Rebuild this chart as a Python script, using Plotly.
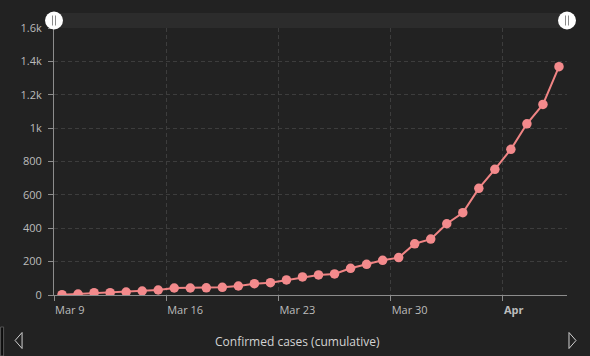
import plotly.graph_objects as go
import pandas as pd

# ---- data ----
start_date = "2020-03-09"
confirmed = [2, 6, 14, 14, 18, 24, 30, 42, 42, 43, 46, 54, 68, 74, 90, 108,
             120, 126, 160, 184, 208, 224, 307, 335, 427, 493, 639, 753,
             873, 1026, 1142, 1368]
dates = pd.date_range(start_date, periods=len(confirmed), freq="D") + pd.Timedelta(hours=12)

x_tickvals = ["2020-03-09", "2020-03-16", "2020-03-23", "2020-03-30", "2020-04-06"]
x_ticktext = ["Mar 9", "Mar 16", "Mar 23", "Mar 30", "<b>Apr</b>"]
y_tickvals = [0, 200, 400, 600, 800, 1000, 1200, 1400, 1600]
y_ticktext = ["0", "200", "400", "600", "800", "1k", "1.2k", "1.4k", "1.6k"]
title_text = "Confirmed cases (cumulative)"

BG = "#222222"
GRID = "#3d3d3d"
AXIS = "#8c8c8c"
LABEL = "#bcbcbc"
LINE = "#f08484"
FONT = "Open Sans"

fig = go.Figure()
fig.add_trace(go.Scatter(
    x=dates, y=confirmed, mode="lines+markers",
    line=dict(color=LINE, width=2),
    marker=dict(color="#f38a8c", size=9.5, line=dict(width=0)),
    hoverinfo="skip", showlegend=False,
))

W, H = 590, 356
L, R, T, B = 53.5, 567.5, 28, 295
def px(xp):
    return (xp - L) / (R - L)
def py(yp):
    return (B - yp) / (B - T)

shapes = []
# scrollbar track
shapes.append(dict(type="rect", xref="paper", yref="paper",
                   x0=0, x1=1, y0=py(28), y1=py(13),
                   fillcolor="#2c2c2c", line=dict(width=0), layer="below"))
# grips
for gx in (0, 1):
    shapes.append(dict(type="circle", xref="paper", yref="paper",
                       xsizemode="pixel", ysizemode="pixel",
                       xanchor=gx, yanchor=py(20.5),
                       x0=-9, x1=9, y0=-9, y1=9,
                       fillcolor="#ffffff", line=dict(width=0)))
    for dx in (-1.5, 1.5):
        shapes.append(dict(type="line", xref="paper", yref="paper",
                           xsizemode="pixel", ysizemode="pixel",
                           xanchor=gx, yanchor=py(20.5),
                           x0=dx, x1=dx, y0=-5, y1=5,
                           line=dict(color="#8a8a8a", width=1)))
# bottom arrows
yc = py(340.5)
shapes.append(dict(type="path", xref="paper", yref="paper",
                   xsizemode="pixel", ysizemode="pixel",
                   xanchor=px(18), yanchor=yc,
                   path="M 3.5 -8 L -3.5 0 L 3.5 8 Z",
                   fillcolor="rgba(0,0,0,0)", line=dict(color="#d0d0d0", width=1)))
shapes.append(dict(type="path", xref="paper", yref="paper",
                   xsizemode="pixel", ysizemode="pixel",
                   xanchor=px(573), yanchor=yc,
                   path="M -3.5 -8 L 3.5 0 L -3.5 8 Z",
                   fillcolor="rgba(0,0,0,0)", line=dict(color="#d0d0d0", width=1)))
# left edge dark block
shapes.append(dict(type="rect", xref="paper", yref="paper",
                   x0=px(0), x1=px(3), y0=py(356), y1=py(327),
                   fillcolor="#0c0c0c", line=dict(color="#555555", width=1)))

fig.update_layout(
    width=W, height=H,
    margin=dict(l=L, r=W - R, t=T, b=H - B),
    paper_bgcolor=BG, plot_bgcolor=BG,
    font=dict(family=FONT, color=LABEL, size=11),
    shapes=shapes,
    annotations=[dict(text=title_text, xref="paper", yref="paper",
                      x=px(297), y=py(341), xanchor="center", yanchor="middle",
                      showarrow=False, font=dict(family=FONT, size=12, color="#d2d2d2"))],
)
fig.update_xaxes(
    type="date", range=["2020-03-09", "2020-04-10"],
    tickvals=x_tickvals, ticktext=x_ticktext,
    ticklabelposition="outside right", ticklabelstandoff=5,
    showgrid=True, gridcolor=GRID, griddash="4px,3px", gridwidth=1,
    showline=True, linecolor=AXIS, linewidth=1,
    ticks="outside", ticklen=5, tickcolor=AXIS,
    zeroline=False, tickfont=dict(size=11, color=LABEL),
)
fig.update_yaxes(
    range=[0, 1600], tickvals=y_tickvals, ticktext=y_ticktext,
    showgrid=True, gridcolor=GRID, griddash="4px,3px", gridwidth=1,
    showline=True, linecolor=AXIS, linewidth=1,
    ticks="outside", ticklen=5, tickcolor=AXIS, ticklabelstandoff=4,
    zeroline=False, tickfont=dict(size=11, color=LABEL),
)

fig.write_html(
    "out.html",
    config={"displayModeBar": False, "staticPlot": True},
    post_script="document.body.style.margin='0px';document.body.style.padding='0px';"
                "document.body.style.background='#222222';document.body.style.overflow='hidden';",
)
